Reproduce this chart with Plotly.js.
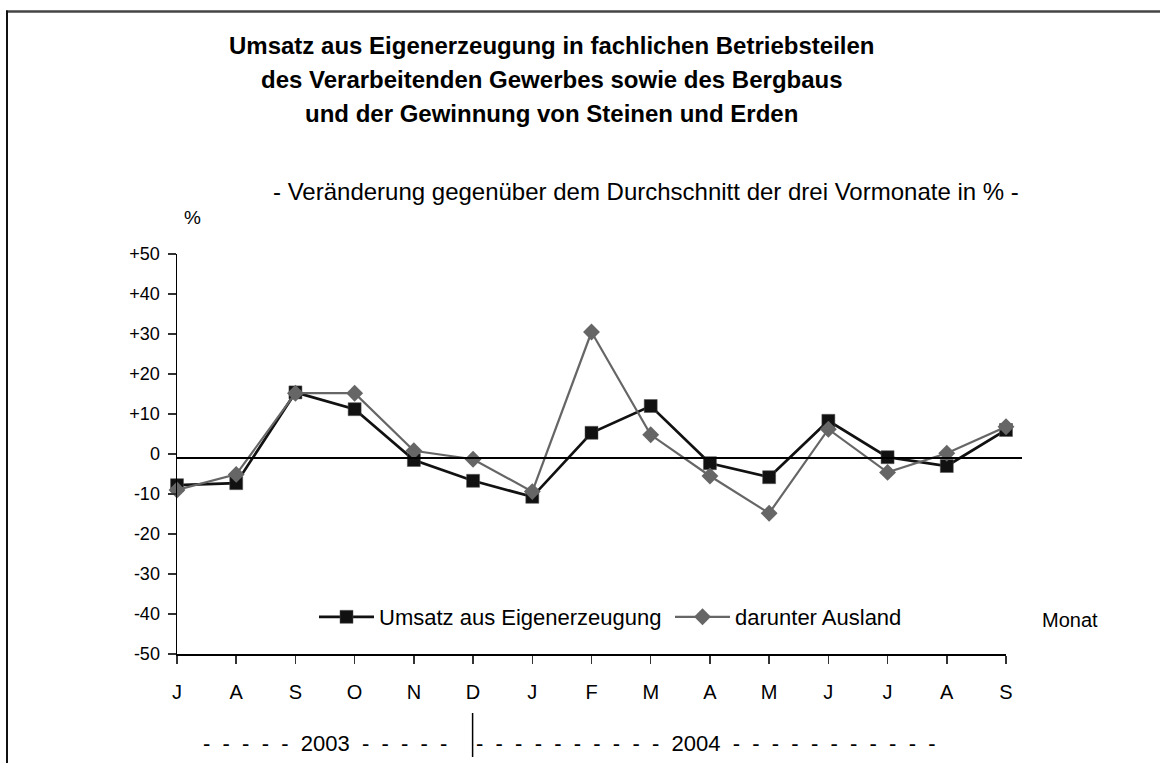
<!DOCTYPE html>
<html>
<head>
<meta charset="utf-8">
<script src="https://cdn.plot.ly/plotly-3.0.1.min.js"></script>
<style>html,body{margin:0;padding:0;background:#fff;}#chart{width:1160px;height:763px;}</style>
</head>
<body>
<div id="chart"></div>
<script>
// Month labels (Jul 2003 – Sep 2004)
const months = ['J','A','S','O','N','D','J','F','M','A','M','J','J','A','S'];
// Umsatz aus Eigenerzeugung (% change vs. average of previous three months)
const umsatz = [-7.8, -7.3, 15.4, 11.2, -1.5, -6.7, -10.7, 5.3, 12.0, -2.3, -5.8, 8.3, -0.8, -3.0, 6.0];
// darunter Ausland
const ausland = [-9.0, -5.1, 15.2, 15.2, 0.8, -1.3, -9.4, 30.5, 4.8, -5.5, -14.8, 6.2, -4.6, 0.2, 6.8];
// Y tick values and labels
const yTickVals = [-50, -40, -30, -20, -10, 0, 10, 20, 30, 40, 50];
const yTickText = ['-50', '-40', '-30', '-20', '-10', '0', '+10', '+20', '+30', '+40', '+50'];
const seriesNames = ['Umsatz aus Eigenerzeugung', 'darunter Ausland'];
const years = ['2003', '2004'];

const xIdx = months.map((_, i) => i);
const FONT = 'Liberation Sans, Arial, Helvetica, sans-serif';
const NB = '\u00a0\u00a0';
const dashes = n => Array(n).fill('-').join(NB);

const traces = [
  {
    x: xIdx, y: umsatz, name: seriesNames[0], type: 'scatter', mode: 'lines+markers',
    line: {color: '#111111', width: 2.7},
    marker: {symbol: 'square', size: 13, color: '#111111', line: {color: '#555', width: 0.5}},
    cliponaxis: false
  },
  {
    x: xIdx, y: ausland, name: seriesNames[1], type: 'scatter', mode: 'lines+markers',
    line: {color: '#666666', width: 2.2},
    marker: {symbol: 'diamond', size: 13, color: '#666666'},
    cliponaxis: false
  }
];

const W = 829, PL = 177, PB = 654, H = 400;
const px = v => (v - PL) / W;
const py = v => (PB - v) / H;

const layout = {
  width: 1160, height: 763,
  margin: {l: 177, r: 154, t: 254, b: 109, pad: 0},
  paper_bgcolor: '#ffffff', plot_bgcolor: '#ffffff',
  font: {family: FONT, color: '#000'},
  showlegend: true,
  legend: {
    orientation: 'h', x: px(314), y: py(617), xanchor: 'left', yanchor: 'middle',
    font: {size: 22, family: FONT, color: '#000'},
    itemwidth: 55, entrywidth: 286, entrywidthmode: 'pixels',
    bgcolor: 'rgba(0,0,0,0)', borderwidth: 0
  },
  xaxis: {
    range: [0, 14], tickvals: xIdx, ticktext: months,
    showline: true, linecolor: '#000', linewidth: 1.5,
    ticks: 'outside', ticklen: 8, tickwidth: 1.5, tickcolor: '#333',
    tickfont: {size: 20, family: FONT, color: '#000'},
    ticklabelstandoff: 11,
    showgrid: false, zeroline: false, fixedrange: true
  },
  yaxis: {
    range: [-50, 50], tickvals: yTickVals, ticktext: yTickText,
    showline: true, linecolor: '#000', linewidth: 1.5,
    ticks: 'outside', ticklen: 8, tickwidth: 1.5, tickcolor: '#333',
    tickfont: {size: 18, family: FONT, color: '#000'},
    ticklabelstandoff: 4,
    showgrid: false, zeroline: false, fixedrange: true
  },
  shapes: [
    {type: 'line', xref: 'paper', yref: 'y', x0: 0, x1: px(1022), y0: -1, y1: -1, line: {color: '#000', width: 2}},
    {type: 'line', xref: 'paper', yref: 'paper', x0: px(472.6), x1: px(472.6), y0: py(713), y1: py(757), line: {color: '#000', width: 1.5}},
    {type: 'line', xref: 'paper', yref: 'paper', x0: px(6), x1: px(1162), y0: py(11.5), y1: py(11.5), line: {color: '#444', width: 2.5}},
    {type: 'line', xref: 'paper', yref: 'paper', x0: px(7), x1: px(7), y0: py(10.5), y1: py(765), line: {color: '#111', width: 2}}
  ],
  annotations: [
    {text: '<b>Umsatz aus Eigenerzeugung in fachlichen Betriebsteilen</b>', xref: 'paper', yref: 'paper', x: px(551.5), y: py(45), xanchor: 'center', yanchor: 'middle', showarrow: false, font: {size: 24, family: FONT, color: '#000'}},
    {text: '<b>des Verarbeitenden Gewerbes sowie des Bergbaus</b>', xref: 'paper', yref: 'paper', x: px(551.5), y: py(79), xanchor: 'center', yanchor: 'middle', showarrow: false, font: {size: 24, family: FONT, color: '#000'}},
    {text: '<b>und der Gewinnung von Steinen und Erden</b>', xref: 'paper', yref: 'paper', x: px(551.5), y: py(113), xanchor: 'center', yanchor: 'middle', showarrow: false, font: {size: 24, family: FONT, color: '#000'}},
    {text: '- Veränderung gegenüber dem Durchschnitt der drei Vormonate in % -', xref: 'paper', yref: 'paper', x: px(646), y: py(191), xanchor: 'center', yanchor: 'middle', showarrow: false, font: {size: 24, family: FONT, color: '#000'}},
    {text: '%', xref: 'paper', yref: 'paper', x: px(192), y: py(218), xanchor: 'center', yanchor: 'middle', showarrow: false, font: {size: 19, family: FONT, color: '#000'}},
    {text: 'Monat', xref: 'paper', yref: 'paper', x: px(1070), y: py(620), xanchor: 'center', yanchor: 'middle', showarrow: false, font: {size: 20, family: FONT, color: '#000'}},
    {text: dashes(5) + NB + years[0] + NB + dashes(5), xref: 'paper', yref: 'paper', x: px(325), y: py(743), xanchor: 'center', yanchor: 'middle', showarrow: false, font: {size: 22, family: FONT, color: '#000'}},
    {text: dashes(10) + NB + years[1] + NB + dashes(11), xref: 'paper', yref: 'paper', x: px(474), y: py(743), xanchor: 'left', yanchor: 'middle', showarrow: false, font: {size: 22, family: FONT, color: '#000'}}
  ]
};

Plotly.newPlot('chart', traces, layout, {displayModeBar: false, staticPlot: true});
</script>
</body>
</html>
